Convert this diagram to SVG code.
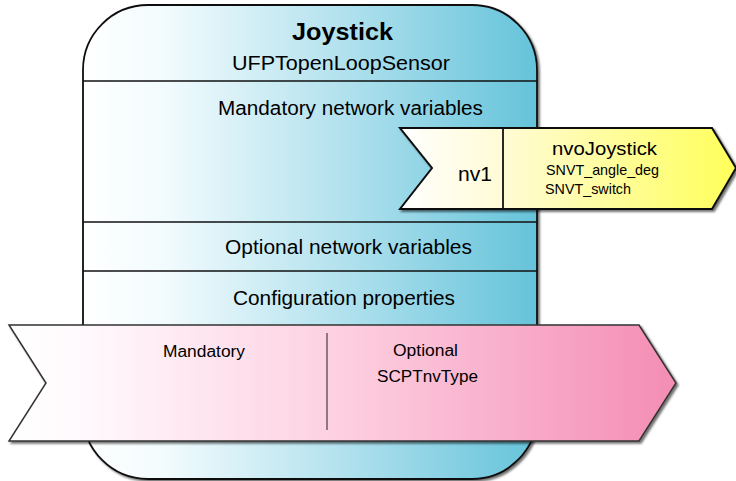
<svg xmlns="http://www.w3.org/2000/svg" width="736" height="481" viewBox="0 0 736 481">
  <defs>
    <linearGradient id="gBlue" x1="0" y1="0" x2="1" y2="0">
      <stop offset="0" stop-color="#ffffff"/>
      <stop offset="0.18" stop-color="#f2fbfd"/>
      <stop offset="0.55" stop-color="#b6e3ef"/>
      <stop offset="1" stop-color="#65c3da"/>
    </linearGradient>
    <linearGradient id="gYellow" x1="0" y1="0" x2="1" y2="0">
      <stop offset="0" stop-color="#ffffff"/>
      <stop offset="0.3" stop-color="#fffbd6"/>
      <stop offset="1" stop-color="#ffff5a"/>
    </linearGradient>
    <linearGradient id="gPink" x1="0" y1="0" x2="1" y2="0">
      <stop offset="0" stop-color="#ffffff"/>
      <stop offset="0.1" stop-color="#fffafd"/>
      <stop offset="0.5" stop-color="#fdcfe1"/>
      <stop offset="1" stop-color="#f48db3"/>
    </linearGradient>
    <filter id="shadow" x="-5%" y="-5%" width="115%" height="115%">
      <feDropShadow dx="2" dy="2" stdDeviation="1.2" flood-color="#000" flood-opacity="0.55"/>
    </filter>
  </defs>
  <style>
    text { font-family: "Liberation Sans", Arial, sans-serif; fill: #000; }
    .div { stroke: #111; stroke-width: 1.5; fill: none; }
    .f20 { font-size: 20px; }
  </style>

  <g id="joystick">
    <rect x="83" y="5" width="454" height="474" rx="65" ry="65" fill="url(#gBlue)" stroke="#111" stroke-width="1.8" filter="url(#shadow)"/>
    <line class="div" x1="83" y1="81" x2="537" y2="81"/>
    <line class="div" x1="83" y1="222" x2="537" y2="222"/>
    <line class="div" x1="83" y1="271" x2="537" y2="271"/>
    <text x="292" y="40" font-size="24" font-weight="bold" textLength="101" lengthAdjust="spacingAndGlyphs">Joystick</text>
    <text class="f20" x="232" y="70" textLength="218" lengthAdjust="spacingAndGlyphs">UFPTopenLoopSensor</text>
    <text class="f20" x="218" y="115" textLength="265" lengthAdjust="spacingAndGlyphs">Mandatory network variables</text>
    <text class="f20" x="225" y="254" textLength="247" lengthAdjust="spacingAndGlyphs">Optional network variables</text>
    <text class="f20" x="233" y="305" textLength="222" lengthAdjust="spacingAndGlyphs">Configuration properties</text>
  </g>

  <g id="nv1">
    <polygon points="400,128 712,128 736,168 712,209 400,209 432,168" fill="url(#gYellow)" stroke="#111" stroke-width="2" filter="url(#shadow)"/>
    <line x1="503" y1="128" x2="503" y2="209" stroke="#111" stroke-width="1.8"/>
    <text x="458" y="181" font-size="20" textLength="34" lengthAdjust="spacingAndGlyphs">nv1</text>
    <text x="552" y="155" font-size="19" textLength="105" lengthAdjust="spacingAndGlyphs">nvoJoystick</text>
    <text x="546" y="175" font-size="15" textLength="113" lengthAdjust="spacingAndGlyphs">SNVT_angle_deg</text>
    <text x="545" y="194" font-size="15" textLength="86" lengthAdjust="spacingAndGlyphs">SNVT_switch</text>
  </g>

  <g id="config">
    <polygon points="9,325 639,325 676,383 639,441 9,441 46,383" fill="url(#gPink)" stroke="#333" stroke-width="1.5" filter="url(#shadow)"/>
    <line x1="327" y1="333" x2="327" y2="430" stroke="#6a5a62" stroke-width="1.5"/>
    <text x="163" y="357" font-size="16" textLength="82" lengthAdjust="spacingAndGlyphs">Mandatory</text>
    <text x="393" y="356" font-size="16" textLength="65" lengthAdjust="spacingAndGlyphs">Optional</text>
    <text x="377" y="382" font-size="16" textLength="101" lengthAdjust="spacingAndGlyphs">SCPTnvType</text>
  </g>

  <g id="connectors"></g>
</svg>
